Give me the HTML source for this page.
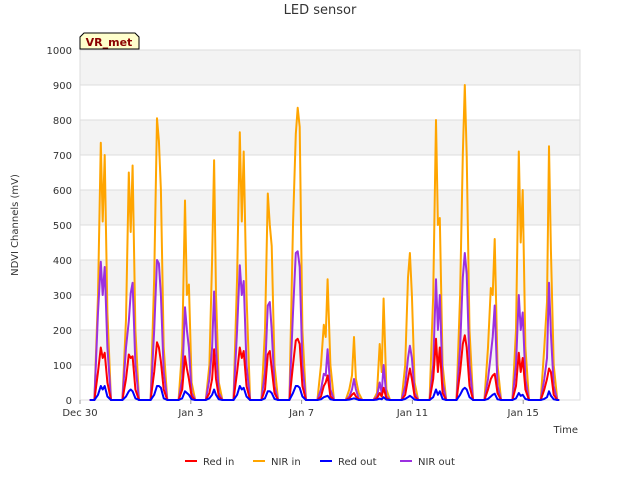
<!DOCTYPE html>
<html><head><meta charset="utf-8"><style>
body{margin:0;background:#fff;font-family:"Liberation Sans","DejaVu Sans",sans-serif}
</style></head><body>
<svg width="640" height="480" viewBox="0 0 640 480" id="svg" font-family="DejaVu Sans, Liberation Sans, sans-serif">
<text x="320" y="14" text-anchor="middle" font-size="13" fill="#333">LED sensor</text>
<g id="bands"></g>
<g id="grid"></g>
<g id="lines"></g>
<g id="axes"></g>
<text x="18" y="225" transform="rotate(-90 18 225)" text-anchor="middle" font-size="10" fill="#333">NDVI Channels (mV)</text>
<text x="578" y="433" text-anchor="end" font-size="10" fill="#333">Time</text>
<g>
<path d="M80,49 L80,37 L84,33 L135,33 L139,37 L139,49 Z" fill="#ffffcc" stroke="#000" stroke-width="1"/>
<text x="109" y="46" text-anchor="middle" font-size="11" font-weight="bold" fill="#8b0000">VR_met</text>
</g>
<g id="legend"></g>
</svg>
<script>
const dayCenters=[0.82,1.83,2.85,3.86,4.84,5.84,6.85,7.86,8.87,9.89,10.89,11.91,12.92,13.89,14.90,15.91,16.93];
const nirIn=[[300,735,510,700,250],[230,650,480,670,200],[350,805,740,600,150],[150,570,300,330,50],[100,400,685,300,50],[350,765,510,710,300],[200,590,500,440,100],[500,760,835,780,200],[100,215,180,345,100],[30,70,180,60,20],[20,160,80,290,30],[100,350,420,300,50],[300,800,500,520,100],[300,700,900,700,200],[150,320,300,460,100],[200,710,450,600,150],[150,280,725,430,100]];
const nirOut=[[250,395,300,380,150],[150,225,305,335,100],[200,400,390,300,80],[60,265,200,150,20],[60,150,310,150,20],[200,385,300,340,100],[80,270,280,200,40],[250,420,425,380,100],[30,75,70,145,30],[10,30,60,30,5],[10,50,20,100,10],[40,120,155,120,20],[100,345,200,300,50],[150,350,420,360,100],[60,130,180,270,40],[100,300,200,250,60],[60,120,335,190,40]];
const redIn=[[80,150,120,135,50],[60,130,120,125,30],[80,165,150,110,30],[30,125,90,60,10],[20,60,145,60,10],[80,150,120,140,40],[30,130,140,90,20],[100,170,175,160,40],[10,40,50,70,10],[5,15,20,10,2],[5,20,10,35,5],[15,60,90,60,10],[60,175,80,150,20],[80,160,185,150,40],[30,60,70,75,20],[40,135,80,120,30],[30,60,90,80,15]];
const redOut=[[15,40,30,40,10],[10,25,30,25,5],[15,40,40,35,5],[5,25,20,15,2],[5,15,30,15,2],[15,40,30,35,10],[5,25,25,20,3],[20,40,40,35,10],[2,8,10,12,2],[1,3,5,3,0],[1,4,2,8,1],[3,8,12,8,1],[8,30,15,25,3],[15,30,35,30,8],[3,10,15,18,2],[5,20,12,15,3],[3,8,25,12,2]];
const offsets=[-0.3,-0.17,-0.07,0,0.07,0.17,0.3];
const yTicks=[0,100,200,300,400,500,600,700,800,900,1000];
const xTicks=[0,4,8,12,16];
const xLabels=["Dec 30","Jan 3","Jan 7","Jan 11","Jan 15"];
const tStart=0.35,tEnd=17.3;
const X0=80,X1=580,Y0=400,Y1=50,DMAX=18.05;
const xs=d=>X0+d/DMAX*(X1-X0);
const ys=v=>Y0-v/1000*(Y0-Y1);
const NS="http://www.w3.org/2000/svg";
function mk(t,a,p){const e=document.createElementNS(NS,t);for(const k in a)e.setAttribute(k,a[k]);p.appendChild(e);return e;}
const bands=document.getElementById('bands'),grid=document.getElementById('grid'),lines=document.getElementById('lines'),axes=document.getElementById('axes'),legend=document.getElementById('legend');
for(let i=0;i<yTicks.length-1;i++){if(i%2===1){const r=mk('rect',{x:X0,y:ys(yTicks[i+1]),width:X1-X0,height:ys(yTicks[i])-ys(yTicks[i+1]),fill:'#f3f3f3'},bands);}}
yTicks.forEach(v=>{const l=mk('line',{x1:X0,x2:X1,y1:ys(v),y2:ys(v),stroke:'#ddd','stroke-width':1},grid);
const t=mk('text',{x:X0-8,y:ys(v)+4,'text-anchor':'end','font-size':10,fill:'#333'},axes);t.textContent=v;});
const fr=mk('rect',{x:X0,y:Y1,width:X1-X0,height:Y0-Y1,fill:'none',stroke:'#ddd'},grid);
xTicks.forEach((d,i)=>{const t=mk('text',{x:xs(d),y:416,'text-anchor':'middle','font-size':10,fill:'#333'},axes);t.textContent=xLabels[i];
const k=mk('line',{x1:xs(d),x2:xs(d),y1:Y0,y2:Y0+4,stroke:'#999'},axes);});
function path(series){let pts=[[tStart,0]];dayCenters.forEach((c,i)=>{const v=[0].concat(series[i],[0]);offsets.forEach((o,j)=>pts.push([c+o,v[j]]));});pts.push([tEnd,0]);
return pts.map((p,i)=>(i?'L':'M')+xs(p[0]).toFixed(1)+','+ys(p[1]).toFixed(1)).join(' ');}
const series=[["NIR in",nirIn,'#ffa500'],["NIR out",nirOut,'#9b30e0'],["Red in",redIn,'#ff0000'],["Red out",redOut,'#0000ff']];
series.forEach(s=>{const p=mk('path',{d:path(s[1]),fill:'none',stroke:s[2],'stroke-width':2,'stroke-linejoin':'round'},lines);});
const leg=[["Red in",'#ff0000',185],["NIR in",'#ffa500',253],["Red out",'#0000ff',320],["NIR out",'#9b30e0',400]];
leg.forEach(l=>{const g=mk('g',{},legend);
mk('line',{x1:l[2],x2:l[2]+12,y1:461,y2:461,stroke:l[1],'stroke-width':2},g);const t=mk('text',{x:l[2]+18,y:465,'font-size':10,fill:'#333'},g);t.textContent=l[0];});
</script>
</body></html>
